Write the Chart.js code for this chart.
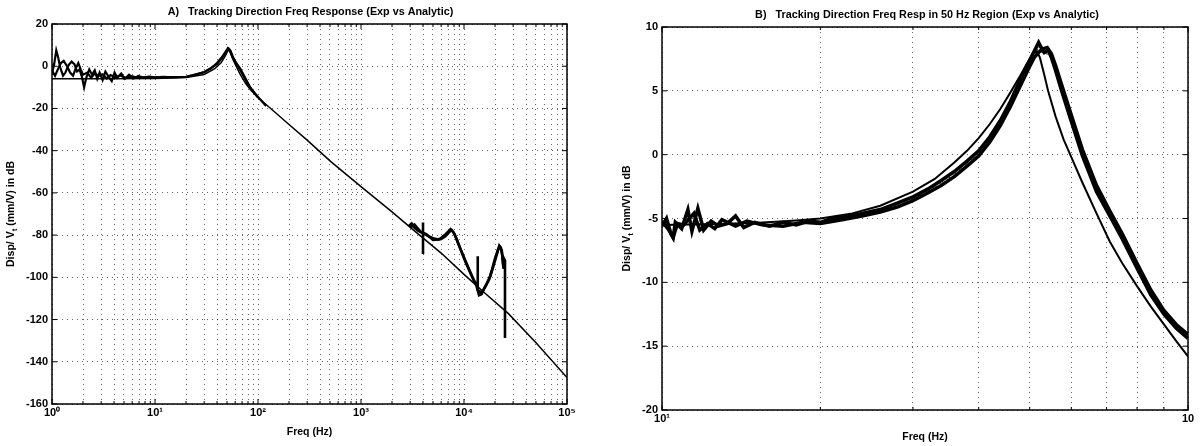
<!DOCTYPE html>
<html>
<head>
<meta charset="utf-8">
<script src="https://cdn.jsdelivr.net/npm/chart.js@4.4.1/dist/chart.umd.min.js"></script>
<style>
  html, body { margin: 0; padding: 0; background: #fff; }
  body { width: 1203px; height: 446px; position: relative; overflow: hidden; }
  .panel { position: absolute; top: 0; height: 446px; }
  #panelA { left: 0; width: 600px; }
  #panelB { left: 600px; width: 603px; }
</style>
</head>
<body>
<div class="panel" id="panelA"><canvas id="chartA" width="600" height="446"></canvas></div>
<div class="panel" id="panelB"><canvas id="chartB" width="603" height="446"></canvas></div>
<script>
// ---------- panel A : full range ----------
const aLabelTicks = [1, 10, 100, 1000, 10000, 100000];
const aLabelText = ['10⁰', '10¹', '10²', '10³', '10⁴', '10⁵'];

// analytic model
const anaFreqA = [1, 3, 10, 20, 30, 38, 44, 48, 50.5, 52, 53.5, 56, 60, 67, 76, 85, 100, 150, 200, 300, 513, 1000, 2000, 3090, 6000, 10000, 15900, 27000, 50000, 100000];
const anaDbA = [-5.9, -5.9, -5.8, -5.3, -3.9, -1.2, 1.8, 4.8, 7.0, 7.8, 7.0, 4.2, 1.0, -3.8, -8.2, -11.3, -14.8, -22.3, -27.6, -35.0, -45.3, -57.0, -69.0, -76.8, -88.5, -98.6, -107.4, -117.2, -131, -147.5];

// experimental, low frequency runs
const expFreqA1 = [1.0, 1.05, 1.1, 1.15, 1.2, 1.28, 1.35, 1.45, 1.55, 1.65, 1.75, 1.85, 1.95, 2.05, 2.15, 2.3, 2.45, 2.6, 2.75, 2.9, 3.1, 3.3, 3.55, 3.8, 4.05, 4.3, 4.7, 5.1, 5.6, 6.2, 6.9, 7.8, 8.8, 10, 12, 15, 20, 25, 30, 35, 40, 45, 48, 51, 53, 56, 60, 67, 75, 85, 100, 120];
const expDbA1 = [-3.5, 1.0, 7.5, 4.0, -0.5, -4.5, -3.0, 0.5, 2.2, 1.0, -2.5, -1.5, -5.0, -10.0, -5.5, -1.5, -4.0, -2.0, -6.0, -3.0, -6.5, -2.5, -5.0, -7.0, -3.0, -5.5, -3.5, -6.0, -4.0, -5.8, -4.6, -5.5, -4.9, -5.3, -5.0, -5.3, -5.1, -4.0, -2.7, -1.0, 1.5, 4.5, 6.6, 8.6, 7.6, 5.0, 2.2, -1.0, -5.5, -10.6, -14.6, -18.8];
const expFreqA2 = [1.0, 1.07, 1.14, 1.22, 1.3, 1.4, 1.5, 1.6, 1.7, 1.8, 1.9, 2.0, 2.2, 2.4, 2.6, 2.85, 3.1, 3.4, 3.7, 4.1, 4.6, 5.2, 6, 7, 8.5, 10, 14, 20, 30, 40, 46, 50, 52, 54, 58, 65, 80, 100];
const expDbA2 = [-2.0, -4.5, -1.5, 1.5, 2.5, 0.0, -3.0, -4.5, -1.0, 1.5, -1.5, -4.0, -3.0, -5.5, -3.5, -4.5, -3.8, -5.8, -4.2, -5.2, -4.4, -5.6, -4.8, -5.5, -5.0, -5.4, -5.2, -5.0, -2.9, 1.0, 4.8, 7.5, 8.3, 7.4, 3.6, -0.6, -8.6, -14.8];

// experimental, high frequency runs
const expFreqH1 = [2900, 3100, 3300, 3600, 4000, 4000, 4000, 4000, 4500, 5000, 5500, 6000, 6600, 7200, 7600, 8100, 8700, 9500, 10500, 11500, 12500, 13600, 13600, 13600, 14500, 15200, 16300, 17500, 18800, 20000, 21500, 22400, 23300, 24000, 24400, 25000, 25000];
const expDbH1 = [-75.8, -74.5, -76.5, -78.0, -79.0, -74.0, -89.0, -79.0, -80.5, -81.5, -82.0, -81.8, -80.5, -78.5, -77.6, -79.5, -83.5, -88.0, -93.0, -97.5, -101.5, -104.5, -90.0, -106.0, -107.0, -106.5, -104.0, -101.0, -96.0, -91.0, -86.5, -85.6, -87.5, -94.0, -91.0, -92.0, -128.7];
const expFreqH2 = [3000, 3300, 3800, 4300, 5000, 5800, 6500, 7400, 7900, 8500, 9300, 10300, 11300, 12300, 13200, 14000, 14800, 15600, 16800, 18000, 19500, 21000, 22000, 22800, 23600, 24200];
const expDbH2 = [-76.5, -75.0, -78.5, -79.5, -82.3, -82.0, -80.0, -77.2, -78.6, -82.0, -87.0, -92.5, -97.0, -101.0, -104.0, -108.5, -108.0, -105.5, -102.5, -99.5, -94.0, -88.5, -85.0, -86.0, -90.0, -96.0];

// ---------- panel B : 50 Hz region ----------
const bLabelTicks = [10, 100];
const bLabelText = ['10¹', '10'];

const expFreqB1 = [10, 10.2, 10.4, 10.5, 10.6, 10.9, 11.2, 11.4, 11.7, 12.0, 12.4, 12.8, 13.3, 13.8, 14.3, 15, 16, 17, 18, 19, 20, 21, 22, 24, 26, 28, 30, 32, 34, 36, 38, 40, 42, 44, 46, 48, 50, 51, 52, 52.6, 53.3, 54.2, 55, 56, 57.5, 60, 63, 67, 71, 75, 80, 85, 90, 95, 100];
const expDbB1 = [-5.6, -5.0, -6.2, -6.5, -5.3, -5.8, -4.3, -6.0, -4.2, -5.9, -5.2, -5.6, -5.4, -4.8, -5.7, -5.3, -5.6, -5.3, -5.5, -5.2, -5.3, -5.0, -4.9, -4.6, -4.3, -3.8, -3.3, -2.7, -2.0, -1.3, -0.5, 0.3, 1.4, 2.7, 4.2, 5.9, 7.4, 8.1, 8.8, 8.4, 8.0, 8.2, 7.6, 6.6, 5.0, 2.6, -0.1, -2.9, -4.8, -6.6, -8.9, -11.0, -12.5, -13.6, -14.4];
const expFreqB2 = [10, 10.3, 10.5, 10.7, 11, 11.5, 11.8, 12.2, 12.6, 13, 13.8, 14.5, 15.5, 17, 18.5, 20, 22, 24, 26, 28, 30, 32, 34, 36, 38, 40, 42, 44, 46, 48, 50, 51, 52, 53, 54, 55, 56, 57.5, 60, 63, 67, 71, 75, 80, 85, 90, 95, 100];
const expDbB2 = [-5.2, -5.9, -6.5, -5.4, -5.5, -4.6, -5.9, -5.4, -5.8, -5.1, -5.6, -5.2, -5.5, -5.6, -5.3, -5.4, -5.1, -4.8, -4.5, -4.1, -3.6, -3.0, -2.4, -1.7, -0.9, -0.1, 1.0, 2.3, 3.8, 5.4, 6.9, 7.6, 8.0, 8.3, 8.4, 7.9, 7.0, 5.5, 3.1, 0.4, -2.4, -4.4, -6.2, -8.5, -10.6, -12.2, -13.3, -14.1];
// run plotted with open circle markers
const markFreqB = [24, 25, 26, 27, 28, 29, 30, 31, 32, 33, 34, 35, 36, 37, 38, 39, 40, 41, 42, 43, 44, 45, 46, 47, 48, 49, 50, 51, 52, 53, 54];
const markDbB = [-4.7, -4.5, -4.35, -4.15, -3.95, -3.7, -3.45, -3.15, -2.85, -2.55, -2.2, -1.85, -1.55, -1.15, -0.75, -0.3, 0.1, 0.6, 1.2, 1.8, 2.5, 3.2, 4.0, 4.8, 5.6, 6.4, 7.2, 7.8, 8.3, 8.1, 8.0];

const anaFreqB = [10, 12, 15, 18, 20, 23, 26, 30, 33, 36, 38, 40, 42, 44, 46, 48, 49.5, 50.7, 51.6, 52.3, 53.2, 54.2, 56, 58, 60, 63, 67, 71, 75, 80, 85, 90, 95, 100];
const anaDbB = [-5.5, -5.45, -5.35, -5.15, -5.0, -4.6, -4.0, -2.9, -1.9, -0.6, 0.3, 1.3, 2.4, 3.6, 4.9, 6.2, 7.2, 7.9, 8.1, 7.6, 6.4, 5.0, 3.0, 1.2, -0.2, -2.2, -4.6, -6.8, -8.5, -10.3, -11.9, -13.3, -14.6, -15.8];

const FONT = '"Liberation Sans", Arial, Helvetica, sans-serif';

function pts(xs, ys) {
    return xs.map((x, i) => ({ x: x, y: ys[i] }));
}

function line(xs, ys, width) {
    return {
        data: pts(xs, ys),
        showLine: true,
        borderColor: '#000',
        borderWidth: width,
        pointRadius: 0,
        tension: 0
    };
}

// all decade subdivisions between min and max, used for the dotted grid
function logGrid(min, max) {
    const out = [];
    for (let d = min; d < max; d *= 10) {
        for (let m = 1; m < 10; m++) out.push(m * d);
    }
    out.push(max);
    return out;
}

// box round the plot and MATLAB style inward ticks
const frame = {
    id: 'frame',
    afterDraw(chart) {
        const { ctx, chartArea: a, scales } = chart;
        ctx.save();
        ctx.strokeStyle = '#000';
        ctx.lineWidth = 1.5;
        ctx.strokeRect(a.left, a.top, a.right - a.left, a.bottom - a.top);
        ctx.lineWidth = 1;
        ctx.beginPath();
        scales.x.ticks.forEach(t => {
            const px = scales.x.getPixelForValue(t.value);
            const len = t.label ? 5 : 3;
            ctx.moveTo(px, a.bottom); ctx.lineTo(px, a.bottom - len);
            ctx.moveTo(px, a.top); ctx.lineTo(px, a.top + len);
        });
        scales.y.ticks.forEach(t => {
            const py = scales.y.getPixelForValue(t.value);
            ctx.moveTo(a.left, py); ctx.lineTo(a.left + 5, py);
            ctx.moveTo(a.right, py); ctx.lineTo(a.right - 5, py);
        });
        ctx.stroke();
        ctx.restore();
    }
};

// title, x label and y label with the subscript t
const panelText = {
    id: 'panelText',
    afterDraw(chart, args, o) {
        const { ctx, chartArea: a } = chart;
        const cx = (a.left + a.right) / 2;
        ctx.save();
        ctx.fillStyle = '#000';
        ctx.textAlign = 'center';
        ctx.textBaseline = 'middle';
        ctx.font = 'bold ' + o.titleSize + 'px ' + FONT;
        ctx.fillText(o.title, cx + o.titleShift, o.titleY);
        ctx.font = 'bold 10.5px ' + FONT;
        ctx.fillText('Freq (Hz)', cx, o.xLabelY);

        ctx.translate(o.yLabelX, (a.top + a.bottom) / 2);
        ctx.rotate(-Math.PI / 2);
        const big = 'bold 10.5px ' + FONT, small = 'bold 8px ' + FONT;
        const p1 = 'Disp/ V', p2 = 't', p3 = ' (mm/V) in dB';
        ctx.font = big;
        const w1 = ctx.measureText(p1).width, w3 = ctx.measureText(p3).width;
        ctx.font = small;
        const w2 = ctx.measureText(p2).width;
        let x = -(w1 + w2 + w3) / 2;
        ctx.textAlign = 'left';
        ctx.font = big; ctx.fillText(p1, x, 0); x += w1;
        ctx.font = small; ctx.fillText(p2, x, 3.5); x += w2;
        ctx.font = big; ctx.fillText(p3, x, 0);
        ctx.restore();
    }
};

function makePanel(id, cfg) {
    const grid = logGrid(cfg.xMin, cfg.xMax);
    return new Chart(document.getElementById(id), {
        type: 'scatter',
        data: { datasets: cfg.datasets },
        options: {
            responsive: false,
            animation: false,
            events: [],
            layout: { padding: cfg.padding },
            plugins: {
                legend: { display: false },
                tooltip: { enabled: false },
                panelText: cfg.text
            },
            scales: {
                x: {
                    type: 'logarithmic',
                    min: cfg.xMin,
                    max: cfg.xMax,
                    afterBuildTicks: ax => { ax.ticks = grid.map(v => ({ value: v })); },
                    afterFit: ax => { ax.height = cfg.xAxisHeight; },
                    ticks: {
                        autoSkip: false, maxRotation: 0, minRotation: 0, padding: 2,
                        color: '#000', font: { family: FONT, size: 11, weight: 'bold' },
                        callback: v => {
                            const i = cfg.labelTicks.indexOf(v);
                            return i >= 0 ? cfg.labelText[i] : '';
                        }
                    },
                    grid: { color: 'rgba(0,0,0,0.6)', lineWidth: 1, drawTicks: false },
                    border: { display: false, dash: [1, 4] }
                },
                y: {
                    min: cfg.yMin,
                    max: cfg.yMax,
                    afterFit: ax => { ax.width = cfg.yAxisWidth; },
                    ticks: {
                        stepSize: cfg.yStep, padding: 4,
                        color: '#000', font: { family: FONT, size: 11, weight: 'bold' }
                    },
                    grid: { color: 'rgba(0,0,0,0.6)', lineWidth: 1, drawTicks: false },
                    border: { display: false, dash: [1, 4] }
                }
            }
        },
        plugins: [frame, panelText]
    });
}

makePanel('chartA', {
    xMin: 1, xMax: 100000, yMin: -160, yMax: 20, yStep: 20,
    labelTicks: aLabelTicks, labelText: aLabelText,
    padding: { left: 0, right: 33, top: 24, bottom: 0 },
    yAxisWidth: 52, xAxisHeight: 42,
    text: { title: 'A)   Tracking Direction Freq Response (Exp vs Analytic)', titleSize: 10.8, titleY: 12, titleShift: 1, xLabelY: 432, yLabelX: 11 },
    datasets: [
        line(anaFreqA, anaDbA, 1.5),
        line(expFreqA1, expDbA1, 2.2),
        line(expFreqA2, expDbA2, 2.2),
        line(expFreqH1, expDbH1, 2.6),
        line(expFreqH2, expDbH2, 2.6)
    ]
});

makePanel('chartB', {
    xMin: 10, xMax: 100, yMin: -20, yMax: 10, yStep: 5,
    labelTicks: bLabelTicks, labelText: bLabelText,
    padding: { left: 0, right: 15, top: 27, bottom: 0 },
    yAxisWidth: 62, xAxisHeight: 36,
    text: { title: 'B)   Tracking Direction Freq Resp in 50 Hz Region (Exp vs Analytic)', titleSize: 10.8, titleY: 15, titleShift: 2, xLabelY: 437, yLabelX: 27 },
    datasets: [
        line(anaFreqB, anaDbB, 2),
        line(expFreqB1, expDbB1, 3.5),
        line(expFreqB2, expDbB2, 3.5),
        {
            data: pts(markFreqB, markDbB),
            showLine: false,
            pointRadius: 1.6,
            pointBorderWidth: 0.8,
            pointBackgroundColor: '#fff',
            pointBorderColor: '#000'
        }
    ]
});
</script>
</body>
</html>
